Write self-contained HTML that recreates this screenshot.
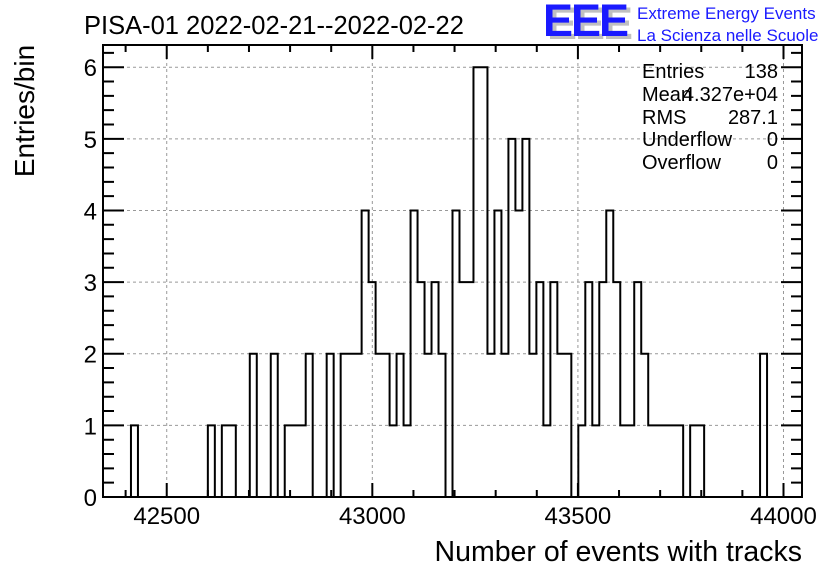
<!DOCTYPE html>
<html><head><meta charset="utf-8"><style>
body{margin:0;background:#fff;}
svg text{font-family:"Liberation Sans",sans-serif;}
</style></head><body>
<svg id="chart" width="836" height="572" xmlns="http://www.w3.org/2000/svg">
<text x="84" y="34" font-size="25.5">PISA-01 2022-02-21--2022-02-22</text>
<g>
<text x="547" y="39" font-size="45" font-weight="bold" fill="#c0c0c0" letter-spacing="-2">EEE</text>
<text x="543" y="36" font-size="45" font-weight="bold" fill="#1a1aff" letter-spacing="-2">EEE</text>
<text x="637" y="19" font-size="17" fill="#1a1aff">Extreme Energy Events</text>
<text x="637" y="41" font-size="17" fill="#1a1aff">La Scienza nelle Scuole</text>
</g>
<g id="grid"></g>
<g id="ticks"></g>
<path id="hist" fill="none" stroke="#000" stroke-width="2"/>
<rect x="103" y="45" width="699" height="452" fill="none" stroke="#000" stroke-width="2"/>
<g id="labels"></g>
<text transform="translate(34,111) rotate(-90)" text-anchor="middle" font-size="28">Entries/bin</text>
<text x="802" y="561" text-anchor="end" font-size="28.5">Number of events with tracks</text>
<g font-size="20">
<text x="642" y="78">Entries</text><text x="778" y="78" text-anchor="end">138</text>
<text x="642" y="101">Mean</text><text x="778" y="101" text-anchor="end">4.327e+04</text>
<text x="642" y="124">RMS</text><text x="778" y="124" text-anchor="end">287.1</text>
<text x="642" y="146">Underflow</text><text x="778" y="146" text-anchor="end">0</text>
<text x="642" y="169">Overflow</text><text x="778" y="169" text-anchor="end">0</text>
</g>
</svg>
<script>
const xMin = 42345, xMax = 44045, nBins = 100;
const counts = [0,0,0,0,1,0,0,0,0,0, 0,0,0,0,0,1,0,1,1,0, 0,2,0,0,2,0,1,1,1,2, 0,0,2,0,2,2,2,4,3,2, 2,1,2,1,4,3,2,3,2,0, 4,3,3,6,6,2,4,2,5,4, 5,2,3,1,3,2,2,0,1,3, 1,3,4,3,1,1,3,2,1,1, 1,1,1,0,1,1,0,0,0,0, 0,0,0,0,2,0,0,0,0,0];
const xTicks = [42500, 43000, 43500, 44000];
const yTicks = [0,1,2,3,4,5,6];
const X0=103, X1=802, Y0=497, Y1=45, yMax=6.31;
const sx = v => X0 + (v - xMin) / (xMax - xMin) * (X1 - X0);
const sy = v => Y0 - v / yMax * (Y0 - Y1);
const NS="http://www.w3.org/2000/svg";
function mk(tag, attrs, parent){const e=document.createElementNS(NS,tag);for(const k in attrs)e.setAttribute(k,attrs[k]);parent.appendChild(e);return e;}
const grid=document.getElementById('grid'), ticks=document.getElementById('ticks'), labels=document.getElementById('labels');
xTicks.forEach(t=>{const x=sx(t);
 const g=mk('line',{x1:x,x2:x,y1:Y1,y2:Y0,stroke:'#999','stroke-dasharray':'3,3'},grid);
 
 
 const l=mk('text',{x:x,y:524,'text-anchor':'middle','font-size':24},labels);
 l.textContent=t;
 
 
});
yTicks.forEach(t=>{const y=sy(t);
 if(t>0){const g=mk('line',{x1:X0,x2:X1,y1:y,y2:y,stroke:'#999','stroke-dasharray':'3,3'},grid);
 
 }
 const l=mk('text',{x:97,y:y+9,'text-anchor':'end','font-size':24},labels);
 l.textContent=t;
 
 
});
let d='';
for(let v=42400; v<=44000; v+=100){const x=sx(v);const L=(v%500===0)?14:7;
 d+=`M${x},${Y0}V${Y0-L}M${x},${Y1}V${Y1+L}`;}
for(let v=0; v<=6.3; v+=0.2){const y=sy(v);const L=(Math.abs(v-Math.round(v))<1e-6)?21:11;
 d+=`M${X0},${y}H${X0+L}M${X1},${y}H${X1-L}`;}
mk('path',{d:d,stroke:'#000','stroke-width':2,fill:'none'},ticks);
const w=(xMax-xMin)/nBins;
let p=`M${sx(xMin)},${sy(0)}`;
counts.forEach((c,i)=>{p+=`V${sy(c)}H${sx(xMin+(i+1)*w)}`;});
p+=`V${sy(0)}`;
document.getElementById('hist').setAttribute('d',p);
</script>
</body></html>
